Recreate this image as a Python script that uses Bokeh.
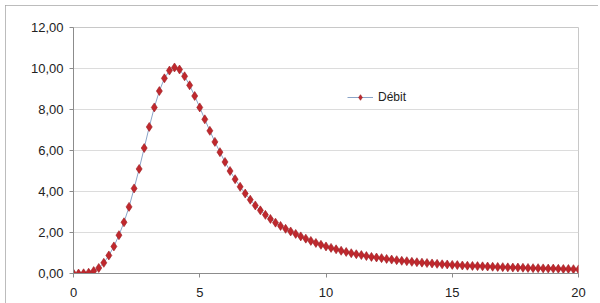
from bokeh.plotting import figure
from bokeh.models import (Range1d, FixedTicker, CustomJSTickFormatter, Legend, LegendItem,
                          ColumnDataSource)
from bokeh.embed import file_html
from bokeh.resources import INLINE

# ---- data ----
temps = [0.0, 0.2, 0.4, 0.6, 0.8, 1.0, 1.2, 1.4, 1.6, 1.8,
         2.0, 2.2, 2.4, 2.6, 2.8, 3.0, 3.2, 3.4, 3.6, 3.8,
         4.0, 4.2, 4.4, 4.6, 4.8, 5.0, 5.2, 5.4, 5.6, 5.8,
         6.0, 6.2, 6.4, 6.6, 6.8, 7.0, 7.2, 7.4, 7.6, 7.8,
         8.0, 8.2, 8.4, 8.6, 8.8, 9.0, 9.2, 9.4, 9.6, 9.8,
         10.0, 10.2, 10.4, 10.6, 10.8, 11.0, 11.2, 11.4, 11.6, 11.8,
         12.0, 12.2, 12.4, 12.6, 12.8, 13.0, 13.2, 13.4, 13.6, 13.8,
         14.0, 14.2, 14.4, 14.6, 14.8, 15.0, 15.2, 15.4, 15.6, 15.8,
         16.0, 16.2, 16.4, 16.6, 16.8, 17.0, 17.2, 17.4, 17.6, 17.8,
         18.0, 18.2, 18.4, 18.6, 18.8, 19.0, 19.2, 19.4, 19.6, 19.8,
         20.0]
debit = [0.00, 0.00, 0.01, 0.04, 0.12, 0.27, 0.52, 0.88, 1.32, 1.87,
         2.50, 3.25, 4.15, 5.10, 6.12, 7.15, 8.10, 8.90, 9.52, 9.90,
         10.05, 9.95, 9.62, 9.18, 8.66, 8.10, 7.52, 6.96, 6.42, 5.92,
         5.44, 5.00, 4.60, 4.23, 3.90, 3.60, 3.32, 3.08, 2.86, 2.66,
         2.48, 2.32, 2.18, 2.05, 1.93, 1.81, 1.70, 1.59, 1.49, 1.40,
         1.32, 1.25, 1.18, 1.11, 1.05, 0.99, 0.94, 0.90, 0.85, 0.81,
         0.78, 0.75, 0.71, 0.68, 0.65, 0.62, 0.60, 0.57, 0.55, 0.53,
         0.51, 0.49, 0.47, 0.45, 0.44, 0.42, 0.41, 0.39, 0.38, 0.37,
         0.36, 0.35, 0.34, 0.33, 0.32, 0.31, 0.30, 0.29, 0.29, 0.28,
         0.27, 0.26, 0.26, 0.25, 0.24, 0.24, 0.23, 0.22, 0.22, 0.21,
         0.20]
x_ticks = [0, 5, 10, 15, 20]
y_ticks = [0, 2, 4, 6, 8, 10, 12]
series_name = "Débit"

FONT = "Liberation Sans"

p = figure(frame_width=505, frame_height=246, output_backend="svg", toolbar_location=None,
           x_range=Range1d(0, 20), y_range=Range1d(0, 12),
           min_border_left=68, min_border_right=20, min_border_top=22, min_border_bottom=30,
           background_fill_color="white", border_fill_color="white",
           styles={"margin": "5px 0px 0px 5px",
                   "outline": "1px solid #a6a6a6", "outline-offset": "-1px"})

p.outline_line_color = "#c8c8c8"
p.xgrid.visible = False
p.ygrid.grid_line_color = "#dcdcdc"
p.ygrid.ticker = FixedTicker(ticks=y_ticks)

for ax in (p.xaxis[0], p.yaxis[0]):
    ax.axis_line_color = "#8c8c8c"
    ax.major_tick_line_color = "#8c8c8c"
    ax.major_tick_out = 4
    ax.major_tick_in = 0
    ax.minor_tick_line_color = None
    ax.major_label_text_font = FONT
    ax.major_label_text_font_size = "13px"
    ax.major_label_text_color = "#222222"

p.xaxis.ticker = FixedTicker(ticks=x_ticks)
p.xaxis.major_label_standoff = 10
p.yaxis.ticker = FixedTicker(ticks=y_ticks)
p.yaxis.major_label_standoff = 6
p.yaxis.formatter = CustomJSTickFormatter(code="return tick.toFixed(2).replace('.', ',');")

src = ColumnDataSource(data=dict(t=temps, q=debit))
ln = p.line("t", "q", source=src, line_color="#8aa4c8", line_width=1)
mk = p.scatter("t", "q", source=src, marker="diamond", size=9,
               fill_color="#c0282d", line_color="#9a1c22", line_width=0.6)

legend = Legend(items=[LegendItem(label=series_name, renderers=[ln, mk])],
                location=(274, 169), orientation="vertical",
                border_line_color=None, background_fill_alpha=0,
                label_text_font=FONT, label_text_font_size="12px", label_text_color="#222222",
                glyph_width=26, glyph_height=14, label_height=14, label_standoff=5,
                padding=4, margin=0, spacing=0)
p.add_layout(legend, "center")

open("out.html", "w").write(file_html(p, INLINE))
